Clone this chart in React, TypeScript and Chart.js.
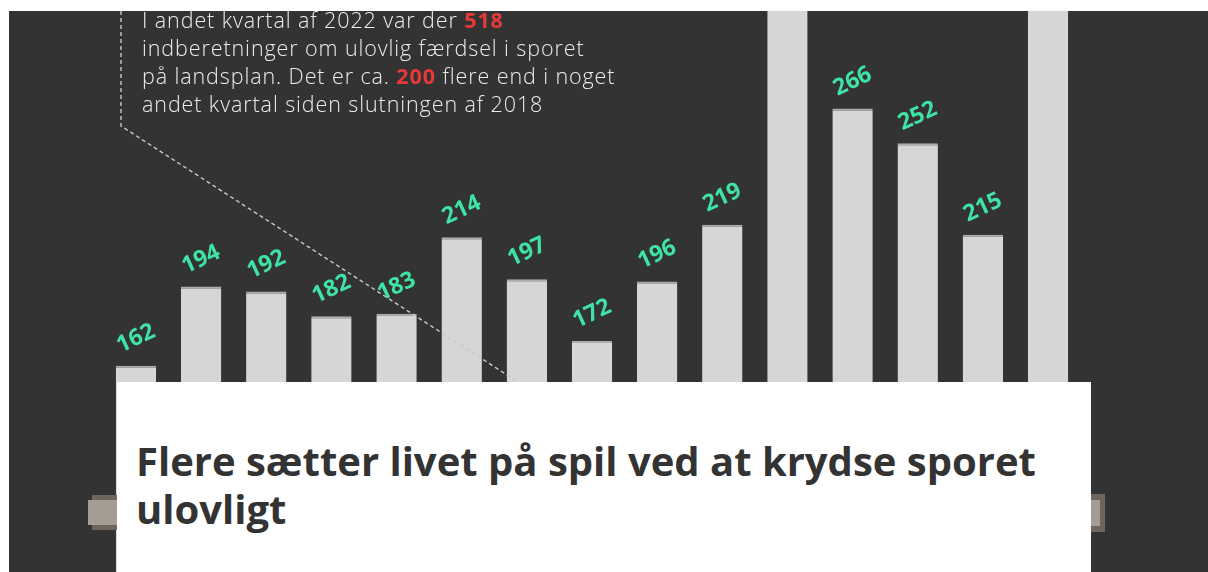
import React, { useEffect, useRef } from 'react';
import { Chart, registerables } from 'chart.js';
Chart.register(...registerables);

// Kvartaler fra slutningen af 2018 til andet kvartal 2022
const quarters = [
  '4. kvt. 2018',
  '1. kvt. 2019', '2. kvt. 2019', '3. kvt. 2019', '4. kvt. 2019',
  '1. kvt. 2020', '2. kvt. 2020', '3. kvt. 2020', '4. kvt. 2020',
  '1. kvt. 2021', '2. kvt. 2021', '3. kvt. 2021', '4. kvt. 2021',
  '1. kvt. 2022', '2. kvt. 2022',
];
// Indberetninger om ulovlig færdsel i sporet
const reports = [162, 194, 192, 182, 183, 214, 197, 172, 196, 219, 318, 266, 252, 215, 518];
// Visible window of the value axis (the chart is cropped)
const axisMin = 78.5;
const axisMax = 305.5;

const labelPlugin = {
  id: 'rotatedValueLabels',
  afterDatasetsDraw(chart: any) {
    const { ctx } = chart;
    const meta = chart.getDatasetMeta(0);
    ctx.save();
    ctx.fillStyle = '#3fe3a6';
    ctx.font = '700 23px "Open Sans", Lato, sans-serif';
    ctx.textAlign = 'center';
    ctx.textBaseline = 'middle';
    meta.data.forEach((bar: any, i: number) => {
      ctx.save();
      ctx.translate(bar.x, bar.y - 27);
      ctx.rotate((-25 * Math.PI) / 180);
      ctx.fillText(String(reports[i]), 0, 0);
      ctx.restore();
    });
    ctx.restore();
  },
};

export default function App() {
  const canvasRef = useRef<HTMLCanvasElement | null>(null);

  useEffect(() => {
    if (!canvasRef.current) return;
    const chart = new Chart(canvasRef.current, {
      type: 'bar',
      data: {
        labels: quarters,
        datasets: [
          {
            data: reports,
            backgroundColor: '#d6d6d6',
            borderColor: '#adadad',
            borderWidth: { top: 2, left: 0, right: 0, bottom: 0 },
            borderSkipped: 'bottom',
            barPercentage: 0.62,
            categoryPercentage: 1,
          },
        ],
      },
      options: {
        animation: false,
        responsive: true,
        maintainAspectRatio: false,
        layout: { padding: { left: 94.4, right: 127.4, top: 0, bottom: 0 } },
        plugins: { legend: { display: false }, tooltip: { enabled: false } },
        scales: {
          x: { display: false, offset: true },
          y: { display: false, min: axisMin, max: axisMax },
        },
      },
      plugins: [labelPlugin],
    });
    return () => chart.destroy();
  }, []);

  const redNum: React.CSSProperties = { color: '#e8393a', fontWeight: 700 };

  return (
    <div
      style={{
        position: 'absolute',
        left: 9,
        top: 11,
        width: 1199,
        height: 561,
        background: '#333333',
        overflow: 'hidden',
      }}
    >
      <div style={{ position: 'absolute', left: 0, top: 0, width: 1199, height: 561 }}>
        <canvas ref={canvasRef} />
      </div>
      <svg
        width={1199}
        height={561}
        style={{ position: 'absolute', left: 0, top: 0 }}
      >
        <polyline
          points="112,0 112,115 512,373"
          fill="none"
          stroke="#c9c9c9"
          strokeWidth={1.4}
          strokeDasharray="4 3"
        />
      </svg>
      <div
        style={{
          position: 'absolute',
          left: 133,
          top: -5,
          fontFamily: '"Open Sans", Lato, sans-serif',
          fontWeight: 300,
          fontSize: 21.5,
          lineHeight: '28px',
          letterSpacing: '0.9px',
          color: '#ececec',
          whiteSpace: 'nowrap',
        }}
      >
        I andet kvartal af 2022 var der <span style={redNum}>518</span>
        <br />
        indberetninger om ulovlig færdsel i sporet
        <br />
        på landsplan. Det er ca. <span style={redNum}>200</span> flere end i noget
        <br />
        andet kvartal siden slutningen af 2018
      </div>
      {/* slider handles */}
      <div style={{ position: 'absolute', left: 83, top: 484, width: 26, height: 35, background: '#6e655f' }} />
      <div style={{ position: 'absolute', left: 79, top: 489, width: 30, height: 25, background: '#a59c94' }} />
      <div style={{ position: 'absolute', left: 1082, top: 483, width: 14, height: 38, background: '#6e655f' }} />
      <div style={{ position: 'absolute', left: 1082, top: 489, width: 9, height: 26, background: '#a59c94' }} />
      <div
        style={{
          position: 'absolute',
          left: 108,
          top: 371,
          width: 974,
          height: 200,
          background: '#ffffff',
        }}
      >
        <div
          style={{
            position: 'absolute',
            left: 19,
            top: 55,
            fontFamily: '"Open Sans", Lato, sans-serif',
            fontWeight: 700,
            fontSize: 40,
            lineHeight: '48px',
            color: '#333333',
            whiteSpace: 'nowrap',
          }}
        >
          Flere sætter livet på spil ved at krydse sporet
          <br />
          ulovligt
        </div>
      </div>
    </div>
  );
}
